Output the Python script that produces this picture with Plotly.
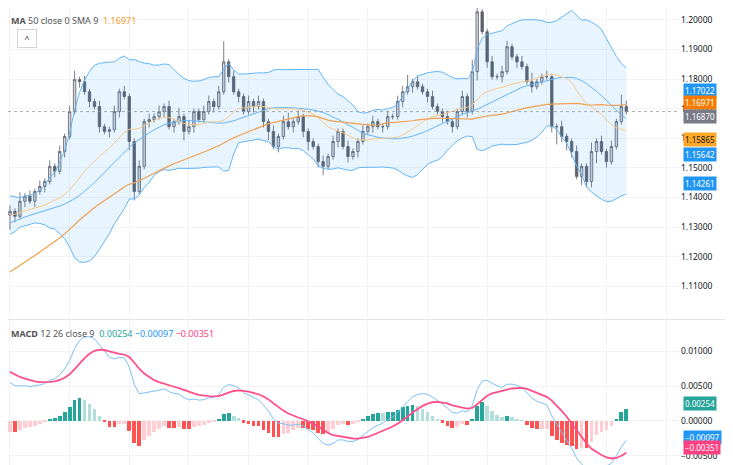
import plotly.graph_objects as go
import pandas as pd

prehistory = [1.0800,1.0815,1.0790,1.0830,1.0850,1.0840,1.0870,1.0895,1.0880,1.0910,
1.0935,1.0920,1.0960,1.0985,1.0970,1.1010,1.1040,1.1025,1.1060,1.1090,
1.1075,1.1110,1.1140,1.1125,1.1160,1.1190,1.1175,1.1210,1.1240,1.1225,
1.1255,1.1280,1.1265,1.1300,1.1320,1.1305,1.1330,1.1350,1.1335,1.1360,
1.1380,1.1365,1.1390,1.1370,1.1345,1.1360,1.1380,1.1350,1.1330,1.1340]

closes = [1.1353,1.1336,1.1387,1.1404,1.1387,1.1420,1.1437,1.1454,1.1505,1.1488,
1.1555,1.1606,1.1690,1.1798,1.1791,1.1757,1.1724,1.1707,1.1639,1.1623,
1.1629,1.1690,1.1757,1.1741,1.1589,1.1420,1.1505,1.1656,1.1663,1.1673,
1.1690,1.1707,1.1639,1.1656,1.1673,1.1623,1.1639,1.1690,1.1663,1.1690,
1.1724,1.1707,1.1757,1.1858,1.1808,1.1757,1.1741,1.1690,1.1724,1.1707,
1.1724,1.1656,1.1623,1.1572,1.1606,1.1656,1.1639,1.1656,1.1673,1.1623,
1.1589,1.1572,1.1521,1.1505,1.1538,1.1589,1.1623,1.1572,1.1538,1.1555,
1.1589,1.1623,1.1639,1.1656,1.1639,1.1639,1.1673,1.1673,1.1724,1.1757,
1.1774,1.1791,1.1774,1.1757,1.1741,1.1707,1.1690,1.1673,1.1656,1.1639,
1.1690,1.1741,1.1690,1.1825,1.2027,1.1960,1.1858,1.1808,1.1808,1.1825,
1.1909,1.1875,1.1858,1.1842,1.1791,1.1774,1.1791,1.1808,1.1808,1.1639,
1.1639,1.1606,1.1589,1.1555,1.1471,1.1505,1.1454,1.1555,1.1589,1.1555,
1.1521,1.1572,1.1656,1.1707,1.1690]

# wick sizes in units of 0.001
upper_wick = [2,1,3,1,2,1,2,1,2,1, 2,1,2,3,1,2,1,1,2,1, 1,2,1,2,1,1,2,1,2,1,
2,1,2,1,3,1,2,1,1,2, 2,1,2,7,1,2,1,1,2,1, 2,1,1,2,1,2,3,1,2,1,
1,1,1,2,1,2,1,1,2,1, 1,2,1,2,1,1,2,1,2,2, 4,1,2,1,1,2,1,1,2,1,
1,2,1,4,6,1,1,2,1,2, 2,1,1,2,1,3,1,1,2,1, 1,2,1,1,2,1,1,3,1,2, 1,2,1,4,2]
lower_wick = [5,2,1,2,1,2,1,2,1,2, 1,2,1,1,2,1,2,1,2,1, 2,1,2,1,3,3,1,1,2,1,
1,2,1,2,1,3,1,2,1,1, 1,2,1,1,2,1,2,1,1,2, 1,2,3,1,2,1,1,2,1,2,
3,1,2,3,1,1,2,1,2,1, 2,1,1,2,1,2,1,1,1,2, 1,2,1,1,2,1,1,2,1,2,
1,1,2,1,3,1,2,1,1,2, 1,1,2,1,1,2,1,1,1,2, 6,2,3,2,1,3,2,2,4,1, 2,1,1,1,1]

price_ticks = [1.11, 1.12, 1.13, 1.14, 1.15, 1.16, 1.17, 1.18, 1.19, 1.20]

# (text, value, background, font colour, vertical shift px)
price_tags = [("1.17022", 1.17022, "#2196f3", "white", 17), ("1.16971", 1.16971, "#f57c00", "white", 7),
              ("1.16870", 1.16870, "#787b86", "white", -4), ("1.15865", 1.15865, "#ffa726", "#131722", 3),
              ("1.15642", 1.15642, "#2196f3", "white", -6), ("1.14261", 1.14261, "#2196f3", "white", 6)]
macd_tags = [("0.00254", 0.00254, "#26a69a", 0), ("−0.00097", -0.00097, "#2196f3", -10), ("−0.00351", -0.00351, "#ff4081", -2)]

allc = pd.Series(prehistory + closes)
n0 = len(prehistory)
basis = allc.rolling(20).mean()
sd = allc.rolling(20).std(ddof=0)
upper = basis + 2 * sd
lower = basis - 2 * sd
ma50 = allc.rolling(50, min_periods=1).mean()
basis_s = basis.rolling(9, min_periods=1).mean()
ema12 = allc.ewm(span=12, adjust=False).mean()
ema26 = allc.ewm(span=26, adjust=False).mean()
macd = ema12 - ema26
signal = macd.ewm(span=9, adjust=False).mean()
hist = macd - signal

sl = slice(n0, None)
x = list(range(len(closes)))
opens = [allc[n0 + i - 1] for i in x]
highs = [max(o, c) + w / 1000 for o, c, w in zip(opens, closes, upper_wick)]
lows = [min(o, c) - w / 1000 for o, c, w in zip(opens, closes, lower_wick)]

fig = go.Figure()
P = dict(xaxis="x", yaxis="y")
M = dict(xaxis="x2", yaxis="y2")
fig.add_trace(go.Scatter(x=x, y=upper[sl].values, mode="lines", line=dict(color="#64b5f6", width=1), hoverinfo="skip", **P))
fig.add_trace(go.Scatter(x=x, y=lower[sl].values, mode="lines", line=dict(color="#64b5f6", width=1), fill="tonexty",
                         fillcolor="rgba(33,150,243,0.10)", hoverinfo="skip", **P))
fig.add_trace(go.Scatter(x=x, y=basis_s[sl].values, mode="lines", line=dict(color="#64b5f6", width=1), **P))
fig.add_trace(go.Scatter(x=x, y=basis[sl].values, mode="lines", line=dict(color="#f6c98a", width=1), **P))
fig.add_trace(go.Scatter(x=x, y=ma50[sl].values, mode="lines", line=dict(color="#f0a050", width=1.2), **P))
fig.add_trace(go.Candlestick(x=x, open=opens, high=highs, low=lows, close=closes, whiskerwidth=0,
                             increasing=dict(line=dict(color="#5d606b", width=0.8), fillcolor="#d1d4dc"),
                             decreasing=dict(line=dict(color="#5d606b", width=0.8), fillcolor="#5d606b"), **P))

h = hist[sl].values
cols = []
for i, v in enumerate(h):
    prev = h[i - 1] if i > 0 else hist[n0 - 1]
    if v >= 0:
        cols.append("#26a69a" if v >= prev else "#b2dfdb")
    else:
        cols.append("#ffcdd2" if v >= prev else "#ff5252")
fig.add_trace(go.Bar(x=x, y=h, marker=dict(color=cols, line=dict(width=0)), width=0.75, **M))
fig.add_trace(go.Scatter(x=x, y=macd[sl].values, mode="lines", line=dict(color="#7ec0f5", width=1), **M))
fig.add_trace(go.Scatter(x=x, y=signal[sl].values, mode="lines", line=dict(color="#ff4f8b", width=1.8), **M))

ann = [
    dict(xref="paper", yref="paper", x=0.002, y=0.992, xanchor="left", yanchor="top", showarrow=False,
         text="<b>MA</b> 50 close 0 SMA 9  <span style='color:#f59d29'>1.16971</span>", font=dict(size=9, color="#555")),
    dict(xref="paper", yref="paper", x=0.002, y=0.318, xanchor="left", yanchor="top", showarrow=False,
         text="<b>MACD</b> 12 26 close 9  <span style='color:#26a69a'>0.00254</span> <span style='color:#2196f3'>−0.00097</span> <span style='color:#ff4081'>−0.00351</span>",
         font=dict(size=9, color="#555")),
    dict(xref="paper", yref="paper", x=0.013, y=0.955, xanchor="left", yanchor="top", showarrow=False,
         text="^", font=dict(size=9, color="#333"), bordercolor="#d0d3da", borderwidth=1, borderpad=2, width=14),
]
for t, v, bg, fc, ys in price_tags:
    ann.append(dict(xref="paper", yref="y", x=1.005, y=v, xanchor="left", showarrow=False, text=t, yshift=ys,
                    bgcolor=bg, font=dict(size=8, color=fc), borderpad=1))
for t, v, bg, ys in macd_tags:
    ann.append(dict(xref="paper", yref="y2", x=1.005, y=v, xanchor="left", showarrow=False, text=t, yshift=ys,
                    bgcolor=bg, font=dict(size=8, color="white"), borderpad=1))

axis_common = dict(side="right", showgrid=True, gridcolor="#f3f3f3", zeroline=False, ticks="",
                   tickfont=dict(size=8.5, color="#131722"))
xcommon = dict(range=[-0.4, 134.8], showticklabels=False, showgrid=True, gridcolor="#f3f3f3", dtick=12, zeroline=False)
fig.update_layout(width=733, height=465, margin=dict(l=0, r=61, t=0, b=0), showlegend=False,
                  plot_bgcolor="white", paper_bgcolor="white", annotations=ann, bargap=0,
                  font=dict(family="Noto Sans", size=9, color="#131722"),
                  xaxis=dict(**xcommon, rangeslider=dict(visible=False), anchor="y"),
                  xaxis2=dict(**xcommon, anchor="y2", matches="x"),
                  yaxis=dict(**axis_common, domain=[0.333, 1], range=[1.0992, 1.2040], tickvals=price_ticks,
                             tickformat=".5f", anchor="x"),
                  yaxis2=dict(**axis_common, domain=[0, 0.327], range=[-0.0075, 0.0144], anchor="x2",
                              tickvals=[-0.005, 0, 0.005, 0.01],
                              ticktext=["−0.00500", "0.00000", "0.00500", "0.01000"]))
fig.add_shape(type="line", xref="x", yref="y", x0=-0.4, x1=134.8, y0=closes[-1], y1=closes[-1],
              line=dict(color="#9598a1", width=0.8, dash="dot"))
fig.add_shape(type="line", xref="paper", yref="paper", x0=0, x1=1.1, y0=0.330, y1=0.330, line=dict(color="#e0e3eb", width=1))
fig.write_html("out.html")
